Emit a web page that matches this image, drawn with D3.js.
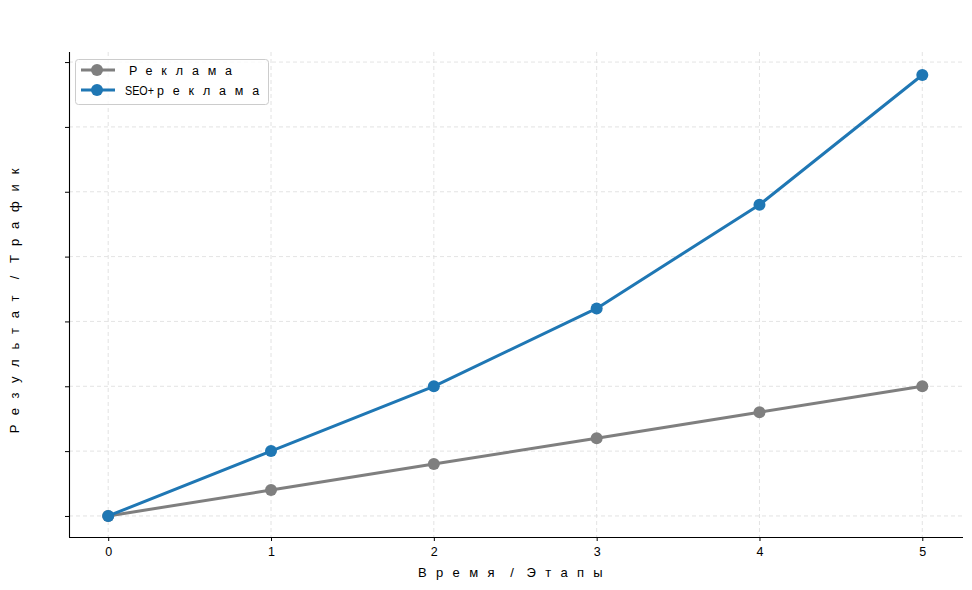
<!DOCTYPE html>
<html><head><meta charset="utf-8">
<script src="https://cdn.jsdelivr.net/npm/d3@7"></script>
<style>
body{margin:0;background:#fff;}
svg text{font-family:"Liberation Sans Narrow","Liberation Sans",Arial,sans-serif;fill:#000;}
</style></head><body>
<svg id="chart" width="972" height="590"></svg>
<script>
const steps = [0, 1, 2, 3, 4, 5];
const adsValues = [0, 2, 4, 6, 8, 10];
const seoAdsValues = [0, 5, 10, 16, 24, 34];
const seriesNames = ["Реклама", "SEO+реклама"];
const seriesColors = ["#7f7f7f", "#1f77b4"];
const yTicks = [0, 5, 10, 15, 20, 25, 30, 35];
const xLabel = "Время / Этапы";
const yLabel = "Результат / Трафик";

const svg = d3.select("#chart");
const m = {left: 69, right: 963, top: 52, bottom: 537};
const x = d3.scaleLinear().domain([-0.25, 5.25]).range([m.left - 1.5, m.right]);
const y = d3.scaleLinear().domain([-1.7, 35.7]).range([m.bottom + 1, m.top + 1]);

// spaced text helper: non-latin glyphs get wide spacing
function spaced(sel, str, ls) {
  const parts = str.match(/[A-Za-z0-9+]+|[^A-Za-z0-9+]/g);
  let afterLatin = false;
  parts.forEach(p => {
    const latin = /^[A-Za-z0-9+]+$/.test(p);
    const t = sel.append("tspan").text(p);
    if (latin) {
      t.attr("textLength", p.length * 7.25).attr("lengthAdjust", "spacingAndGlyphs");
    } else {
      t.attr("letter-spacing", p === " " ? 3 : (p === "/" ? 6 : ls));
      if (afterLatin) t.attr("dx", 3);
    }
    afterLatin = latin;
  });
}

// grid
const g = svg.append("g");
g.selectAll(".gx").data(steps).join("line")
  .attr("x1", d => x(d)).attr("x2", d => x(d)).attr("y1", m.top).attr("y2", m.bottom)
  .attr("stroke", "#dcdcdc").attr("stroke-width", 0.8).attr("stroke-dasharray", "4,3");
g.selectAll(".gy").data(yTicks).join("line")
  .attr("x1", m.left).attr("x2", m.right).attr("y1", d => y(d)).attr("y2", d => y(d))
  .attr("stroke", "#dcdcdc").attr("stroke-width", 0.8).attr("stroke-dasharray", "4,3");

// axes
const xAxis = d3.axisBottom(x).tickValues(steps).tickSize(4).tickPadding(6).tickFormat(d3.format("d"));
const gx = svg.append("g").attr("transform", `translate(0,${m.bottom})`).call(xAxis);
gx.select(".domain").attr("d", `M${m.left},0.5H${m.right}`).attr("stroke", "#000").attr("stroke-width", 1.1);
gx.selectAll("text").style("font-size", "12.5px").attr("fill", "#000");

const yAxis = d3.axisLeft(y).tickValues(yTicks).tickSize(4).tickFormat("");
const gy = svg.append("g").attr("transform", `translate(${m.left},0)`).call(yAxis);
gy.select(".domain").attr("d", `M0.5,${m.top}V${m.bottom}`).attr("stroke", "#000").attr("stroke-width", 1.1);

// lines
const data = [adsValues, seoAdsValues];
const line = d3.line().x((d, i) => x(steps[i])).y(d => y(d));
data.forEach((vals, k) => {
  svg.append("path").datum(vals).attr("d", line).attr("fill", "none")
    .attr("stroke", seriesColors[k]).attr("stroke-width", 3).attr("stroke-linejoin", "round");
  svg.selectAll(".pt" + k).data(vals).join("circle")
    .attr("cx", (d, i) => x(steps[i])).attr("cy", d => y(d)).attr("r", 6)
    .attr("fill", seriesColors[k]);
});

// labels
const xl = svg.append("text").attr("x", 515).attr("y", 577).attr("text-anchor", "middle").style("font-size", "13px");
spaced(xl, xLabel, 9.3);
const yl = svg.append("text").attr("transform", "translate(19,296) rotate(-90)").attr("text-anchor", "middle").style("font-size", "13px");
spaced(yl, yLabel, 9.8);

// legend
const lg = svg.append("g");
lg.append("rect").attr("x", 75.5).attr("y", 59.5).attr("width", 193).attr("height", 45).attr("rx", 3)
  .attr("fill", "#fff").attr("fill-opacity", 0.8).attr("stroke", "#cccccc");
seriesNames.forEach((name, k) => {
  const yy = 70 + k * 20;
  lg.append("line").attr("x1", 81).attr("x2", 115).attr("y1", yy).attr("y2", yy)
    .attr("stroke", seriesColors[k]).attr("stroke-width", 3);
  lg.append("circle").attr("cx", 97).attr("cy", yy).attr("r", 6).attr("fill", seriesColors[k]);
  const t = lg.append("text").attr("x", k === 0 ? 129 : 125).attr("y", yy + 4.5).style("font-size", "12.5px");
  spaced(t, name, 8.8);
});
</script></body></html>
